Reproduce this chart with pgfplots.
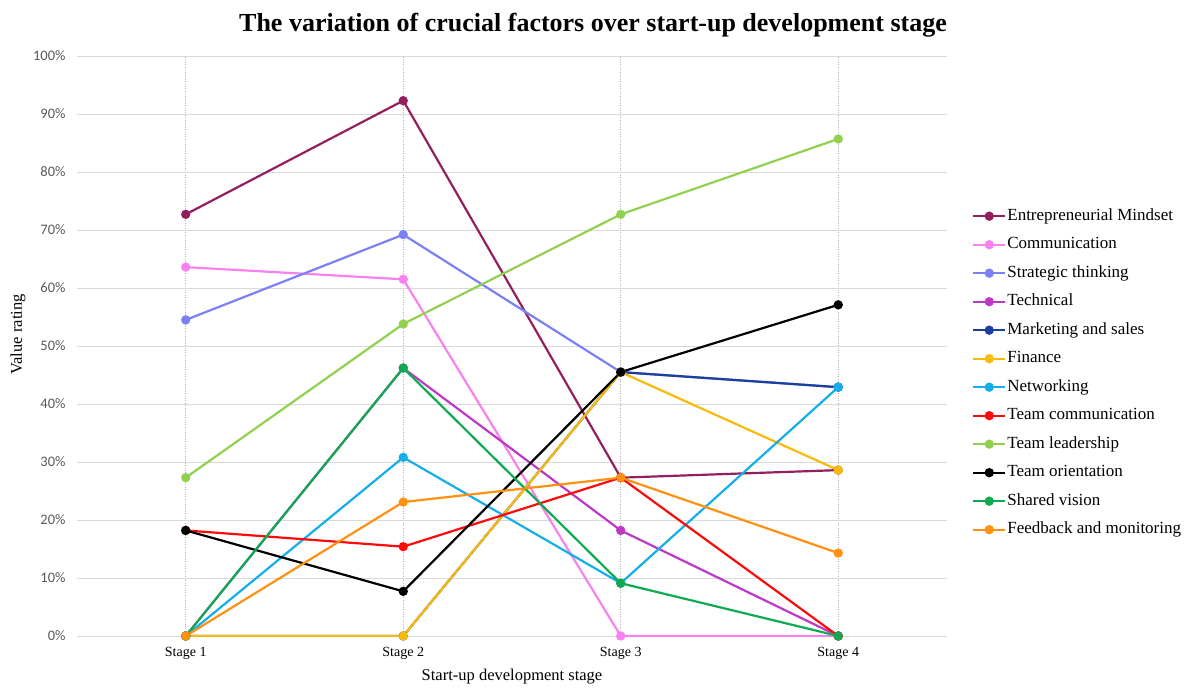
\documentclass[border=0pt]{standalone}
\usepackage{fontspec}
\setmainfont{Liberation Serif}
\newfontfamily\carlito{Carlito}
\usepackage{pgfplots}
\pgfplotsset{compat=1.18}
\definecolor{cEM}{HTML}{931F5E}
\definecolor{cCO}{HTML}{F981EF}
\definecolor{cST}{HTML}{7B80F7}
\definecolor{cTE}{HTML}{BE38C8}
\definecolor{cMS}{HTML}{1B3F9E}
\definecolor{cFI}{HTML}{F9BA0C}
\definecolor{cNE}{HTML}{14AEEA}
\definecolor{cTC}{HTML}{FF0A0A}
\definecolor{cTL}{HTML}{92D050}
\definecolor{cTO}{HTML}{000000}
\definecolor{cSV}{HTML}{0FAA4F}
\definecolor{cFM}{HTML}{FF9010}
\definecolor{tickgray}{HTML}{595959}
\definecolor{gridgray}{HTML}{D9D9D9}
\begin{document}
\begin{tikzpicture}
\begin{axis}[
  at={(0pt,0pt)}, anchor=south west,
  scale only axis, width=870pt, height=580pt,
  xmin=0.5, xmax=4.5, ymin=0, ymax=100,
  xtick={1,2,3,4}, xticklabels={Stage 1,Stage 2,Stage 3,Stage 4},
  ytick={0,10,...,100},
  yticklabel={\pgfmathprintnumber{\tick}\%},
  /pgf/number format/assume math mode=true,
  major tick length=0pt,
  axis line style={draw=none},
  ymajorgrids, xmajorgrids,
  major y grid style={gridgray, line width=0.9pt},
  major x grid style={gray!60, dotted, line width=0.7pt},
  yticklabel style={font=\fontsize{14.5}{16}\carlito, text=tickgray, xshift=-8pt},
  xticklabel style={font=\fontsize{14}{16}\selectfont, yshift=-8pt},
  xlabel={Start-up development stage},
  ylabel={Value rating},
  xlabel style={font=\fontsize{16.5}{18}\selectfont, at={(axis description cs:0.5,-0.0707)}, anchor=center},
  ylabel style={font=\fontsize{16.5}{18}\selectfont, at={(axis description cs:-0.068,0.52)}, anchor=center},
  every axis plot/.append style={line width=2.2pt, mark=*, mark size=3.5pt, mark options={solid}},
  legend style={at={(axis description cs:1.0287,0.7397)}, anchor=north west, draw=none, fill=none,
    font=\fontsize{17}{19}\selectfont, inner sep=0pt, row sep=10.5pt,
    nodes={inner sep=1pt, text height=12pt, text depth=4pt}},
  legend cell align=left,
  legend image code/.code={\draw[mark repeat=2,mark phase=2,#1] plot coordinates {(0pt,0pt) (16pt,0pt) (32pt,0pt)};},
]
\addplot[cEM, mark options={fill=cEM}] coordinates {(1,72.7) (2,92.3) (3,27.3) (4,28.6)};
\addlegendentry{Entrepreneurial Mindset}
\addplot[cCO, mark options={fill=cCO}] coordinates {(1,63.6) (2,61.5) (3,0) (4,0)};
\addlegendentry{Communication}
\addplot[cST, mark options={fill=cST}] coordinates {(1,54.5) (2,69.2) (3,45.5) (4,42.9)};
\addlegendentry{Strategic thinking}
\addplot[cTE, mark options={fill=cTE}] coordinates {(1,0) (2,46.2) (3,18.2) (4,0)};
\addlegendentry{Technical}
\addplot[cMS, mark options={fill=cMS}] coordinates {(1,0) (2,0) (3,45.5) (4,42.9)};
\addlegendentry{Marketing and sales}
\addplot[cFI, mark options={fill=cFI}] coordinates {(1,0) (2,0) (3,45.5) (4,28.6)};
\addlegendentry{Finance}
\addplot[cNE, mark options={fill=cNE}] coordinates {(1,0) (2,30.8) (3,9.1) (4,42.9)};
\addlegendentry{Networking}
\addplot[cTC, mark options={fill=cTC}] coordinates {(1,18.2) (2,15.4) (3,27.3) (4,0)};
\addlegendentry{Team communication}
\addplot[cTL, mark options={fill=cTL}] coordinates {(1,27.3) (2,53.8) (3,72.7) (4,85.7)};
\addlegendentry{Team leadership}
\addplot[cTO, mark options={fill=cTO}] coordinates {(1,18.2) (2,7.7) (3,45.5) (4,57.1)};
\addlegendentry{Team orientation}
\addplot[cSV, mark options={fill=cSV}] coordinates {(1,0) (2,46.2) (3,9.1) (4,0)};
\addlegendentry{Shared vision}
\addplot[cFM, mark options={fill=cFM}] coordinates {(1,0) (2,23.1) (3,27.3) (4,14.3)};
\addlegendentry{Feedback and monitoring}
\end{axis}
\node[font=\fontsize{26}{30}\bfseries] at (516pt,611pt) {The variation of crucial factors over start-up development stage};
\path[use as bounding box] (-77pt,-50pt) rectangle (1111pt,636pt);
\end{tikzpicture}
\end{document}
